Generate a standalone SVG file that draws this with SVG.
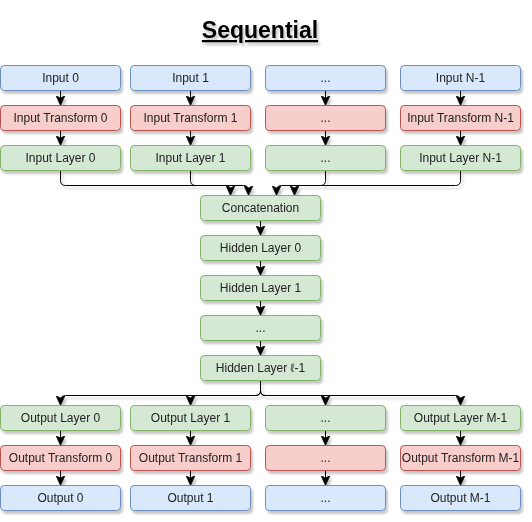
<svg xmlns="http://www.w3.org/2000/svg" width="532" height="522" viewBox="0 0 532 522">
<style>
.b rect{stroke-width:1}
.blue{fill:#dae8fc;stroke:#6c8ebf}
.red{fill:#f8cecc;stroke:#b85450}
.green{fill:#d5e8d4;stroke:#82b366}
text{font-family:"Liberation Sans",Arial,sans-serif;font-size:12px;fill:#222;text-anchor:middle}
.title{font-size:23px;font-weight:bold;text-decoration:underline;fill:#000}
.e path{fill:none;stroke:#000;stroke-width:1}
</style>
<defs>
<filter id="sh" x="-10%" y="-10%" width="130%" height="150%">
<feDropShadow dx="2" dy="3" stdDeviation="1.2" flood-color="#000" flood-opacity="0.22"/>
</filter>
<marker id="arr" markerUnits="userSpaceOnUse" markerWidth="10" markerHeight="10" viewBox="0 0 8 8" refX="8" refY="4" orient="auto">
<path d="M0,0.3 L8,4 L0,7.7 L2,4 Z" fill="#000" stroke="#000" stroke-width="0.5"/>
</marker>
</defs>
<rect width="532" height="522" fill="#fff"/>
<text class="title" x="260" y="38" filter="url(#sh)">Sequential</text>
<g class="e" filter="url(#sh)">
<path d="M60.5 90.5V105.5" marker-end="url(#arr)"/>
<path d="M190.5 90.5V105.5" marker-end="url(#arr)"/>
<path d="M325.5 90.5V105.5" marker-end="url(#arr)"/>
<path d="M460.5 90.5V105.5" marker-end="url(#arr)"/>
<path d="M60.5 130.5V145.5" marker-end="url(#arr)"/>
<path d="M190.5 130.5V145.5" marker-end="url(#arr)"/>
<path d="M325.5 130.5V145.5" marker-end="url(#arr)"/>
<path d="M460.5 130.5V145.5" marker-end="url(#arr)"/>
<path d="M60.5 170.5V180.5Q60.5 185.5 65.5 185.5H225.5Q230.5 185.5 230.5 190.5V195.5" marker-end="url(#arr)"/>
<path d="M190.5 170.5V180.5Q190.5 185.5 195.5 185.5H243.5Q248.5 185.5 248.5 190.5V195.5" marker-end="url(#arr)"/>
<path d="M325.5 170.5V180.5Q325.5 185.5 320.5 185.5H281.5Q276.5 185.5 276.5 190.5V195.5" marker-end="url(#arr)"/>
<path d="M460.5 170.5V180.5Q460.5 185.5 455.5 185.5H299.5Q294.5 185.5 294.5 190.5V195.5" marker-end="url(#arr)"/>
<path d="M260.5 220.5V235.5" marker-end="url(#arr)"/>
<path d="M260.5 260.5V275.5" marker-end="url(#arr)"/>
<path d="M260.5 300.5V315.5" marker-end="url(#arr)"/>
<path d="M260.5 340.5V355.5" marker-end="url(#arr)"/>
<path d="M260.5 380.5V390.5Q260.5 395.5 255.5 395.5H65.5Q60.5 395.5 60.5 400.5V405.5" marker-end="url(#arr)"/>
<path d="M260.5 380.5V390.5Q260.5 395.5 255.5 395.5H195.5Q190.5 395.5 190.5 400.5V405.5" marker-end="url(#arr)"/>
<path d="M260.5 380.5V390.5Q260.5 395.5 265.5 395.5H320.5Q325.5 395.5 325.5 400.5V405.5" marker-end="url(#arr)"/>
<path d="M260.5 380.5V390.5Q260.5 395.5 265.5 395.5H455.5Q460.5 395.5 460.5 400.5V405.5" marker-end="url(#arr)"/>
<path d="M60.5 430.5V445.5" marker-end="url(#arr)"/>
<path d="M190.5 430.5V445.5" marker-end="url(#arr)"/>
<path d="M325.5 430.5V445.5" marker-end="url(#arr)"/>
<path d="M460.5 430.5V445.5" marker-end="url(#arr)"/>
<path d="M60.5 470.5V485.5" marker-end="url(#arr)"/>
<path d="M190.5 470.5V485.5" marker-end="url(#arr)"/>
<path d="M325.5 470.5V485.5" marker-end="url(#arr)"/>
<path d="M460.5 470.5V485.5" marker-end="url(#arr)"/>
</g>
<g class="b" filter="url(#sh)">
<g id="input0"><rect class="blue" x="0.5" y="65.5" width="120" height="25" rx="3.75"/><text x="60.5" y="82">Input 0</text></g>
<g id="input1"><rect class="blue" x="130.5" y="65.5" width="120" height="25" rx="3.75"/><text x="190.5" y="82">Input 1</text></g>
<g id="inputDots"><rect class="blue" x="265.5" y="65.5" width="120" height="25" rx="3.75"/><text x="325.5" y="82">...</text></g>
<g id="inputN1"><rect class="blue" x="400.5" y="65.5" width="120" height="25" rx="3.75"/><text x="460.5" y="82">Input N-1</text></g>
<g id="itrans0"><rect class="red" x="0.5" y="105.5" width="120" height="25" rx="3.75"/><text x="60.5" y="122">Input Transform 0</text></g>
<g id="itrans1"><rect class="red" x="130.5" y="105.5" width="120" height="25" rx="3.75"/><text x="190.5" y="122">Input Transform 1</text></g>
<g id="itransDots"><rect class="red" x="265.5" y="105.5" width="120" height="25" rx="3.75"/><text x="325.5" y="122">...</text></g>
<g id="itransN1"><rect class="red" x="400.5" y="105.5" width="120" height="25" rx="3.75"/><text x="460.5" y="122">Input Transform N-1</text></g>
<g id="ilayer0"><rect class="green" x="0.5" y="145.5" width="120" height="25" rx="3.75"/><text x="60.5" y="162">Input Layer 0</text></g>
<g id="ilayer1"><rect class="green" x="130.5" y="145.5" width="120" height="25" rx="3.75"/><text x="190.5" y="162">Input Layer 1</text></g>
<g id="ilayerDots"><rect class="green" x="265.5" y="145.5" width="120" height="25" rx="3.75"/><text x="325.5" y="162">...</text></g>
<g id="ilayerN1"><rect class="green" x="400.5" y="145.5" width="120" height="25" rx="3.75"/><text x="460.5" y="162">Input Layer N-1</text></g>
<g id="concat"><rect class="green" x="200.5" y="195.5" width="120" height="25" rx="3.75"/><text x="260.5" y="212">Concatenation</text></g>
<g id="hidden0"><rect class="green" x="200.5" y="235.5" width="120" height="25" rx="3.75"/><text x="260.5" y="252">Hidden Layer 0</text></g>
<g id="hidden1"><rect class="green" x="200.5" y="275.5" width="120" height="25" rx="3.75"/><text x="260.5" y="292">Hidden Layer 1</text></g>
<g id="hiddenDots"><rect class="green" x="200.5" y="315.5" width="120" height="25" rx="3.75"/><text x="260.5" y="332">...</text></g>
<g id="hiddenL1"><rect class="green" x="200.5" y="355.5" width="120" height="25" rx="3.75"/><text x="260.5" y="372">Hidden Layer ℓ-1</text></g>
<g id="olayer0"><rect class="green" x="0.5" y="405.5" width="120" height="25" rx="3.75"/><text x="60.5" y="422">Output Layer 0</text></g>
<g id="olayer1"><rect class="green" x="130.5" y="405.5" width="120" height="25" rx="3.75"/><text x="190.5" y="422">Output Layer 1</text></g>
<g id="olayerDots"><rect class="green" x="265.5" y="405.5" width="120" height="25" rx="3.75"/><text x="325.5" y="422">...</text></g>
<g id="olayerM1"><rect class="green" x="400.5" y="405.5" width="120" height="25" rx="3.75"/><text x="460.5" y="422">Output Layer M-1</text></g>
<g id="otrans0"><rect class="red" x="0.5" y="445.5" width="120" height="25" rx="3.75"/><text x="60.5" y="462">Output Transform 0</text></g>
<g id="otrans1"><rect class="red" x="130.5" y="445.5" width="120" height="25" rx="3.75"/><text x="190.5" y="462">Output Transform 1</text></g>
<g id="otransDots"><rect class="red" x="265.5" y="445.5" width="120" height="25" rx="3.75"/><text x="325.5" y="462">...</text></g>
<g id="otransM1"><rect class="red" x="400.5" y="445.5" width="120" height="25" rx="3.75"/><text x="460.5" y="462">Output Transform M-1</text></g>
<g id="output0"><rect class="blue" x="0.5" y="485.5" width="120" height="25" rx="3.75"/><text x="60.5" y="502">Output 0</text></g>
<g id="output1"><rect class="blue" x="130.5" y="485.5" width="120" height="25" rx="3.75"/><text x="190.5" y="502">Output 1</text></g>
<g id="outputDots"><rect class="blue" x="265.5" y="485.5" width="120" height="25" rx="3.75"/><text x="325.5" y="502">...</text></g>
<g id="outputM1"><rect class="blue" x="400.5" y="485.5" width="120" height="25" rx="3.75"/><text x="460.5" y="502">Output M-1</text></g>
</g>
</svg>
